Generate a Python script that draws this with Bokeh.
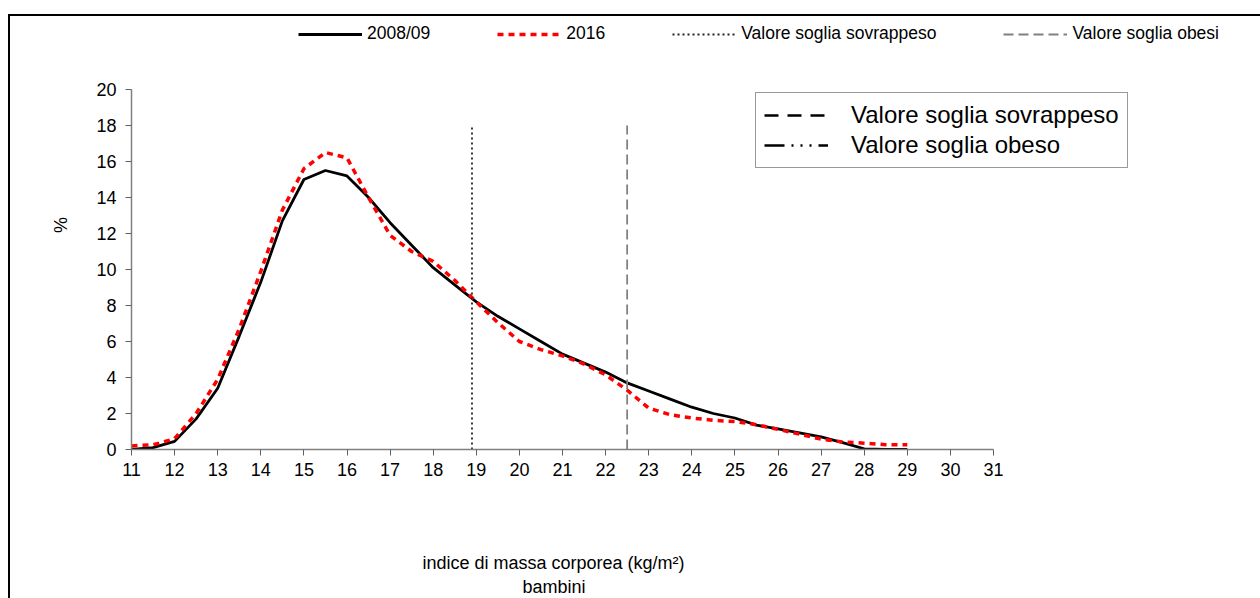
from bokeh.plotting import figure
from bokeh.models import Legend, LegendItem, FixedTicker, Range1d, Title, LinearAxis
from bokeh.embed import file_html
from bokeh.resources import INLINE

# ---- data ----
bmi = [11.0, 11.5, 12.0, 12.5, 13.0, 13.5, 14.0, 14.5, 15.0, 15.5, 16.0, 16.5,
       17.0, 17.5, 18.0, 18.5, 19.0, 19.5, 20.0, 20.5, 21.0, 21.5, 22.0, 22.5,
       23.0, 23.5, 24.0, 24.5, 25.0, 25.5, 26.0, 26.5, 27.0, 27.5, 28.0, 28.5, 29.0]
pct_2008 = [0.0, 0.1, 0.45, 1.7, 3.4, 6.3, 9.3, 12.7, 15.0, 15.5, 15.2, 14.0,
            12.6, 11.35, 10.1, 9.15, 8.2, 7.4, 6.7, 6.0, 5.3, 4.8, 4.3, 3.7,
            3.25, 2.8, 2.35, 2.0, 1.75, 1.35, 1.15, 0.93, 0.7, 0.38, 0.04, 0.0, 0.0]
pct_2016 = [0.2, 0.26, 0.6, 2.0, 3.9, 6.7, 9.9, 13.3, 15.6, 16.5, 16.2, 14.0,
            11.9, 11.0, 10.45, 9.4, 8.2, 7.05, 6.0, 5.55, 5.2, 4.75, 4.15, 3.3,
            2.3, 1.93, 1.75, 1.62, 1.55, 1.38, 1.12, 0.85, 0.58, 0.42, 0.35, 0.27, 0.26]
soglia_sovrappeso = 18.9
soglia_obesi = 22.5
soglia_y = [0, 18]
x_ticks = list(range(11, 32))
y_ticks = list(range(0, 21, 2))
series_labels = ["2008/09", "2016", "Valore soglia sovrappeso", "Valore soglia obesi"]
box_labels = ["Valore soglia sovrappeso", "Valore soglia obeso"]
x_title = "indice di massa corporea (kg/m\u00b2)"
x_subtitle = "bambini"
y_title = "%"

FONT = "Liberation Sans"
NAN = float("nan")

# ---- layout (pixels) ----
W, H = 1260, 598
LEFT, BOTTOM = 131, 149
AX_W, AX_H = 862, 360          # pixel length of 11..31 and 0..20
frame_w, frame_h = W - LEFT, H - BOTTOM
x_end = x_ticks[0] + (x_ticks[-1] - x_ticks[0]) * frame_w / AX_W
y_end = y_ticks[-1] * frame_h / AX_H

p = figure(width=W, height=H, output_backend="svg", toolbar_location=None,
           x_range=Range1d(x_ticks[0], x_end), y_range=Range1d(0, y_end),
           min_border_left=LEFT, min_border_right=0, min_border_top=0,
           min_border_bottom=BOTTOM)
p.outline_line_color = None
p.xgrid.visible = False
p.ygrid.visible = False
p.background_fill_color = None
p.border_fill_color = None
p.styles = {
    "background": "linear-gradient(#000,#000) 8px 14px / 2px 100% no-repeat, "
                  "linear-gradient(#000,#000) 8px 14px / 100% 2px no-repeat, white"
}

for ax in (p.xaxis[0], p.yaxis[0]):
    ax.axis_line_color = "#808080"
    ax.axis_line_width = 1.5
    ax.major_tick_line_color = "#606060"
    ax.major_tick_out = 6
    ax.major_tick_in = 0
    ax.minor_tick_line_color = None
    ax.major_label_text_font = FONT
    ax.major_label_text_font_size = "18px"
    ax.major_label_text_color = "black"

p.xaxis.ticker = FixedTicker(ticks=x_ticks)
p.yaxis.ticker = FixedTicker(ticks=y_ticks)
p.xaxis.bounds = (x_ticks[0], x_ticks[-1])
p.yaxis.bounds = (y_ticks[0], y_ticks[-1])
p.xaxis.major_label_standoff = 7
p.yaxis.major_label_standoff = 9
p.yaxis.axis_label = y_title
p.yaxis.axis_label_text_font = FONT
p.yaxis.axis_label_text_font_style = "normal"
p.yaxis.axis_label_text_font_size = "18px"
p.yaxis.axis_label_text_color = "black"
p.yaxis.axis_label_standoff = 22

# blank spacer between tick labels and the x title
spacer = LinearAxis(ticker=FixedTicker(ticks=[]), axis_line_color=None,
                    major_tick_line_color=None, minor_tick_line_color=None,
                    major_tick_out=0, major_tick_in=0, minor_tick_out=0,
                    major_label_standoff=0, axis_label=" ",
                    axis_label_standoff=48, axis_label_text_font=FONT,
                    axis_label_text_font_size="18px")
p.add_layout(spacer, "below")

# two-line x title, centred under the 11..31 axis (around pixel 553)
for text, off, standoff in ((x_title, 291, 2), (x_subtitle, 391, 2)):
    p.add_layout(Title(text=text, align="left", offset=off, standoff=standoff,
                       text_font=FONT, text_font_style="normal",
                       text_font_size="18px", text_color="black"), "below")

r_2008 = p.line(bmi, pct_2008, line_color="black", line_width=2.8)
r_2016 = p.line(bmi, pct_2016, line_color="#ff0000", line_width=3.5, line_dash="6 5")
r_sov = p.line([soglia_sovrappeso, soglia_sovrappeso], soglia_y, line_color="#222222",
               line_width=1.8, line_dash="2 3")
r_obe = p.line([soglia_obesi, soglia_obesi], soglia_y, line_color="#808080",
               line_width=1.8, line_dash="10 5")

# renderers without visible points, only for the stray boxed legend
r_box1 = p.line([NAN], [NAN], line_color="black", line_width=2.5, line_dash="14 9")
r_box2 = p.line([NAN], [NAN], line_color="black", line_width=2.5,
                line_dash="20 7 2 7 2 7 2 7")

top_legend = Legend(items=[LegendItem(label=series_labels[0], renderers=[r_2008]),
                           LegendItem(label=series_labels[1], renderers=[r_2016]),
                           LegendItem(label=series_labels[2], renderers=[r_sov]),
                           LegendItem(label=series_labels[3], renderers=[r_obe])],
                    orientation="horizontal", location=(167, 405),
                    spacing=67, glyph_width=64, glyph_height=20, label_height=20,
                    label_standoff=5, padding=0, margin=0,
                    border_line_color=None, background_fill_alpha=0,
                    label_text_font=FONT, label_text_font_size="17.5px",
                    label_text_color="black")
p.add_layout(top_legend, "center")

box_legend = Legend(items=[LegendItem(label=box_labels[0], renderers=[r_box1]),
                           LegendItem(label=box_labels[1], renderers=[r_box2])],
                    orientation="vertical", location=(624, 281),
                    spacing=2, glyph_width=64, glyph_height=20, label_height=20,
                    label_standoff=23, padding=8, margin=0,
                    border_line_color="#333333", border_line_width=1.5,
                    background_fill_color="white", background_fill_alpha=1,
                    label_text_font=FONT, label_text_font_size="24px",
                    label_text_color="black")
p.add_layout(box_legend, "center")

open("out.html", "w").write(file_html(p, INLINE))
